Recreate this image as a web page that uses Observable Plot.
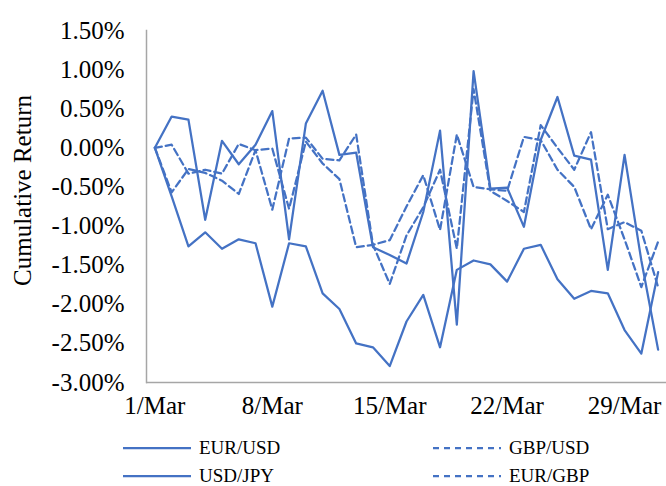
<!DOCTYPE html>
<html>
<head>
<meta charset="utf-8">
<script src="https://cdn.jsdelivr.net/npm/d3@7"></script>
<script src="https://cdn.jsdelivr.net/npm/@observablehq/plot@0.6"></script>
<style>
  html, body { margin: 0; padding: 0; background: #fff; }
  #chart { width: 666px; height: 486px; position: relative; overflow: hidden; font-family: "Liberation Serif", "Times New Roman", serif; }
  .legend { position: absolute; left: 0; top: 430px; width: 666px; height: 56px; }
  .item { position: absolute; display: flex; align-items: center; font-size: 19px; line-height: 22px; color: #000; height: 22px; }
  .item svg { margin-right: 8px; }
</style>
</head>
<body>
<div id="chart"></div>
<script>
// Days of March (1–31) and the labelled ticks
const days = [1, 2, 3, 4, 5, 6, 7, 8, 9, 10, 11, 12, 13, 14, 15, 16, 17, 18, 19, 20,
  21, 22, 23, 24, 25, 26, 27, 28, 29, 30, 31];
const tickDays = [1, 8, 15, 22, 29];
const yTicks = [-3, -2.5, -2, -1.5, -1, -0.5, 0, 0.5, 1, 1.5];

// Cumulative returns, in percent
const eurUsd = [0, 0.40, 0.36, -0.92, 0.09, -0.21, 0.04, 0.47, -1.17, 0.31, 0.73, -0.09, -0.06, -1.27, -1.37, -1.48,
  -0.82, 0.22, -2.26, 0.98, -0.52, -0.51, -1.01, 0.10, 0.65, -0.10, -0.15, -1.56, -0.09, -1.44, -2.58];
const gbpUsd = [0, 0.04, -0.33, -0.28, -0.33, 0.05, -0.03, -0.01, -0.78, 0.08, -0.20, -0.40, -1.27, -1.24, -1.18, -0.75,
  -0.35, -1.05, 0.17, -0.50, -0.53, -0.55, 0.14, 0.10, -0.28, -0.50, -1.04, -0.60, -1.17, -1.78, -1.20];
const usdJpy = [0, -0.62, -1.26, -1.08, -1.29, -1.17, -1.22, -2.03, -1.22, -1.26, -1.86, -2.06, -2.50, -2.55, -2.79, -2.22,
  -1.88, -2.55, -1.56, -1.44, -1.49, -1.71, -1.29, -1.24, -1.68, -1.93, -1.83, -1.86, -2.33, -2.63, -1.59];
const eurGbp = [0, -0.57, -0.27, -0.32, -0.42, -0.59, -0.03, -0.79, 0.12, 0.13, -0.14, -0.16, 0.17, -1.24, -1.74, -1.12,
  -0.76, -0.28, -1.29, 0.75, -0.55, -0.68, -0.82, 0.29, 0.00, -0.28, 0.20, -1.04, -0.95, -1.06, -1.78];

const pairs = ["EUR/USD", "GBP/USD", "USD/JPY", "EUR/GBP"];
const dashedPairs = ["GBP/USD", "EUR/GBP"];
const seriesValues = [eurUsd, gbpUsd, usdJpy, eurGbp];

const rows = pairs.flatMap((pair, k) => seriesValues[k].map((v, i) => ({pair, day: days[i], value: v})));
const solidRows = rows.filter(r => !dashedPairs.includes(r.pair));
const dashedRows = rows.filter(r => dashedPairs.includes(r.pair));

const blue = "#4472C4";
const axisGray = "#a6a6a6";
const fmtPct = d => d.toFixed(2) + "%";
const fmtDay = d => `${d}/Mar`;

const chart = Plot.plot({
  width: 666,
  height: 430,
  marginLeft: 146,
  marginRight: 0,
  marginTop: 30,
  marginBottom: 48,
  style: {fontFamily: "'Liberation Serif', 'Times New Roman', serif", fontSize: "25px", color: "#000", background: "#fff"},
  // each day sits in the middle of its own slot, as on a category axis
  x: {domain: [days[0] - 0.5, days[days.length - 1] + 0.5]},
  y: {domain: [-3, 1.5]},
  marks: [
    Plot.axisY({ticks: yTicks, tickFormat: fmtPct, tickSize: 0, tickPadding: 22, label: null, fontSize: 25}),
    Plot.axisX({ticks: tickDays, tickFormat: fmtDay, tickSize: 0, tickPadding: 14, label: null, fontSize: 25}),
    Plot.ruleY([-3], {stroke: axisGray, strokeWidth: 1.5}),
    Plot.frame({anchor: "left", stroke: axisGray, strokeWidth: 1.5}),
    Plot.text(["Cumulative Return"], {frameAnchor: "left", textAnchor: "middle", rotate: -90, dx: -124, dy: -16, fontSize: 25, fill: "#000"}),
    Plot.line(solidRows, {x: "day", y: "value", z: "pair", stroke: blue, strokeWidth: 2.25}),
    Plot.line(dashedRows, {x: "day", y: "value", z: "pair", stroke: blue, strokeWidth: 2.25, strokeDasharray: "7,4"})
  ]
});

const root = document.getElementById("chart");
root.appendChild(chart);

// Legend below the plot, two columns
const legend = document.createElement("div");
legend.className = "legend";
const legendPos = [
  {pair: "EUR/USD", left: 123, top: 7},
  {pair: "GBP/USD", left: 433, top: 7},
  {pair: "USD/JPY", left: 123, top: 35},
  {pair: "EUR/GBP", left: 433, top: 35}
];
for (const {pair, left, top} of legendPos) {
  const item = document.createElement("div");
  item.className = "item";
  item.style.left = left + "px";
  item.style.top = top + "px";
  const dash = dashedPairs.includes(pair) ? ' stroke-dasharray="6,5"' : "";
  item.innerHTML = `<svg width="68" height="6"><line x1="0" y1="3" x2="68" y2="3" stroke="${blue}" stroke-width="2.25"${dash}/></svg><span>${pair}</span>`;
  legend.appendChild(item);
}
root.appendChild(legend);
</script>
</body>
</html>
